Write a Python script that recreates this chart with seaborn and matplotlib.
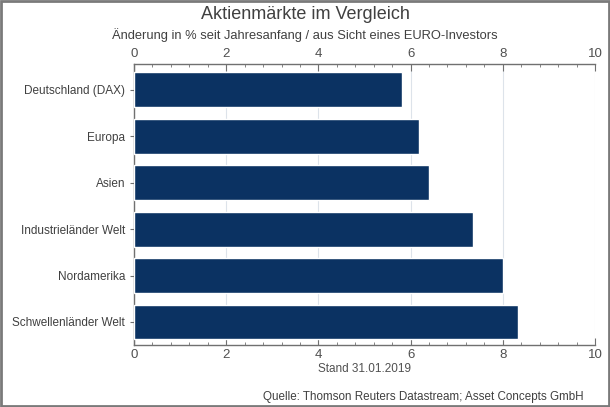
import matplotlib
matplotlib.use("Agg")
import matplotlib.pyplot as plt
from matplotlib.ticker import MultipleLocator
from matplotlib.patches import Rectangle
import seaborn as sns
import pandas as pd

regionen = ["Deutschland (DAX)", "Europa", "Asien", "Industrieländer Welt",
            "Nordamerika", "Schwellenländer Welt"]
aenderung = [5.82, 6.18, 6.39, 7.36, 8.01, 8.34]

df = pd.DataFrame({"Region": regionen, "Aenderung": aenderung})

sns.set_style("white")
plt.rcParams['font.family'] = ['Liberation Sans', 'DejaVu Sans']
text_col = "#404040"

fig = plt.figure(figsize=(6.1, 4.07), dpi=100)
ax = fig.add_axes([0.2197, 0.152, 0.7557, 0.691])

sns.barplot(data=df, x="Aenderung", y="Region", color="#0b3262",
            width=0.75, saturation=1, ax=ax, zorder=3)

ax.set_xlim(0, 10)
ax.set_ylim(len(regionen) - 0.5, -0.56)
ax.xaxis.set_major_locator(MultipleLocator(2))
ax.xaxis.set_minor_locator(MultipleLocator(0.4))
ax.grid(axis="x", which="major", color="#dde3ea", linewidth=0.8, zorder=0)

ax.tick_params(axis="x", which="both", direction="in", top=True, bottom=True,
               labeltop=True, labelbottom=True, colors="#707070",
               labelcolor="#505050", labelsize=9.5, pad=3)
ax.tick_params(axis="x", which="major", length=5)
ax.tick_params(axis="x", which="minor", length=2.5)
ax.tick_params(axis="y", direction="out", length=3, colors="#707070",
               labelcolor=text_col, labelsize=8.5, left=True)

for side in ["left", "top", "bottom"]:
    ax.spines[side].set_color("#707070")
    ax.spines[side].set_linewidth(1)
ax.spines["right"].set_visible(False)

ax.set_xlabel("Stand 31.01.2019", color="#505050", fontsize=8.5, labelpad=1)
ax.set_ylabel("")

fig.text(0.5, 0.965, "Aktienmärkte im Vergleich", ha="center", va="center",
         fontsize=13, color=text_col)
fig.text(0.5, 0.915, "Änderung in % seit Jahresanfang / aus Sicht eines EURO-Investors",
         ha="center", va="center", fontsize=9.3, color=text_col)
fig.text(0.956, 0.024, "Quelle: Thomson Reuters Datastream; Asset Concepts GmbH",
         ha="right", va="center", fontsize=8.4, color=text_col)

fig.patches.append(Rectangle((0.002, 0.003), 0.996, 0.994, transform=fig.transFigure,
                             fill=False, edgecolor="#7a7a7a", linewidth=2))

fig.savefig("out.png", dpi=100)
